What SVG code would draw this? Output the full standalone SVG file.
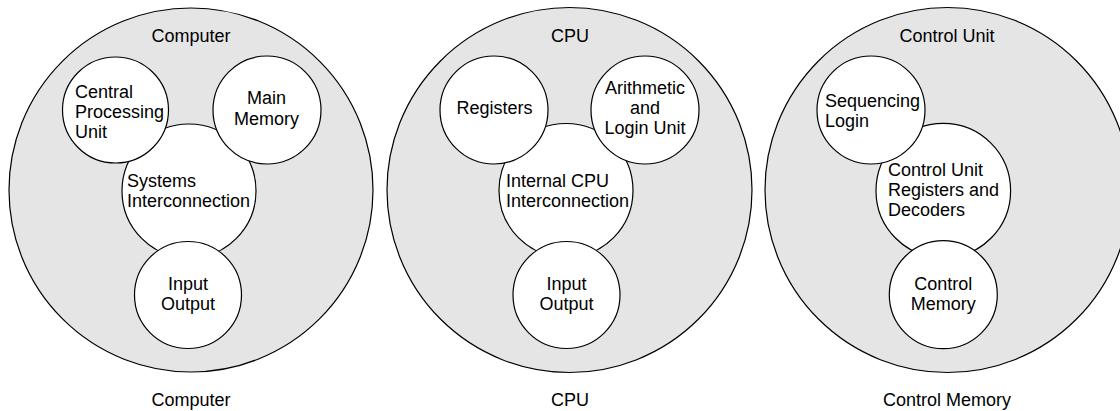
<svg xmlns="http://www.w3.org/2000/svg" width="1120" height="411" viewBox="0 0 1120 411">
<style>
.outer{fill:#e5e5e5;stroke:#000;stroke-width:1.2}
.inner{fill:#fff;stroke:#000;stroke-width:1.2}
text{font-family:"Liberation Sans",Arial,sans-serif;font-size:18px;fill:#000}
.c{text-anchor:middle}
</style>
<rect width="1120" height="411" fill="#fff"/>
<g id="computer">
  <circle class="outer" cx="191" cy="190" r="182"/>
  <text class="c" x="191" y="42">Computer</text>
  <g id="systems-interconnection">
    <circle class="inner" cx="189" cy="191" r="67"/>
    <text x="127" y="187">Systems</text>
    <text x="127" y="207">Interconnection</text>
  </g>
  <g id="central-processing-unit">
    <circle class="inner" cx="115.5" cy="110" r="53"/>
    <text x="75" y="98">Central</text>
    <text x="75" y="118">Processing</text>
    <text x="75" y="138">Unit</text>
  </g>
  <g id="main-memory">
    <circle class="inner" cx="267" cy="110" r="54"/>
    <text class="c" x="266.5" y="104">Main</text>
    <text class="c" x="266.5" y="125">Memory</text>
  </g>
  <g id="input-output-1">
    <circle class="inner" cx="188" cy="295" r="53.5"/>
    <text class="c" x="188" y="290">Input</text>
    <text class="c" x="188" y="310">Output</text>
  </g>
  <text class="c" x="191" y="406">Computer</text>
</g>
<g id="cpu">
  <circle class="outer" cx="569.5" cy="190" r="182.5"/>
  <text class="c" x="570" y="42">CPU</text>
  <g id="internal-cpu-interconnection">
    <circle class="inner" cx="566" cy="190.5" r="67"/>
    <text x="506" y="187">Internal CPU</text>
    <text x="506" y="207">Interconnection</text>
  </g>
  <g id="registers">
    <circle class="inner" cx="494" cy="110" r="54"/>
    <text class="c" x="494.5" y="114">Registers</text>
  </g>
  <g id="alu">
    <circle class="inner" cx="645" cy="110" r="54"/>
    <text class="c" x="645" y="94">Arithmetic</text>
    <text class="c" x="645" y="114">and</text>
    <text class="c" x="645" y="134">Login Unit</text>
  </g>
  <g id="input-output-2">
    <circle class="inner" cx="566.5" cy="295" r="53.5"/>
    <text class="c" x="566.5" y="290">Input</text>
    <text class="c" x="566.5" y="310">Output</text>
  </g>
  <text class="c" x="570" y="406">CPU</text>
</g>
<g id="control-unit">
  <circle class="outer" cx="947.5" cy="190" r="182.5"/>
  <text class="c" x="947" y="42">Control Unit</text>
  <g id="control-unit-registers">
    <circle class="inner" cx="943.3" cy="190.7" r="67.3"/>
    <text x="888" y="176">Control Unit</text>
    <text x="888" y="196">Registers and</text>
    <text x="888" y="216">Decoders</text>
  </g>
  <g id="sequencing-login">
    <circle class="inner" cx="871" cy="110" r="54"/>
    <text x="825" y="107">Sequencing</text>
    <text x="825" y="127">Login</text>
  </g>
  <g id="control-memory">
    <circle class="inner" cx="943.3" cy="294.7" r="54"/>
    <text class="c" x="943.3" y="290">Control</text>
    <text class="c" x="943.3" y="310">Memory</text>
  </g>
  <text class="c" x="947" y="406">Control Memory</text>
</g>
<g id="connectors"/>
</svg>
